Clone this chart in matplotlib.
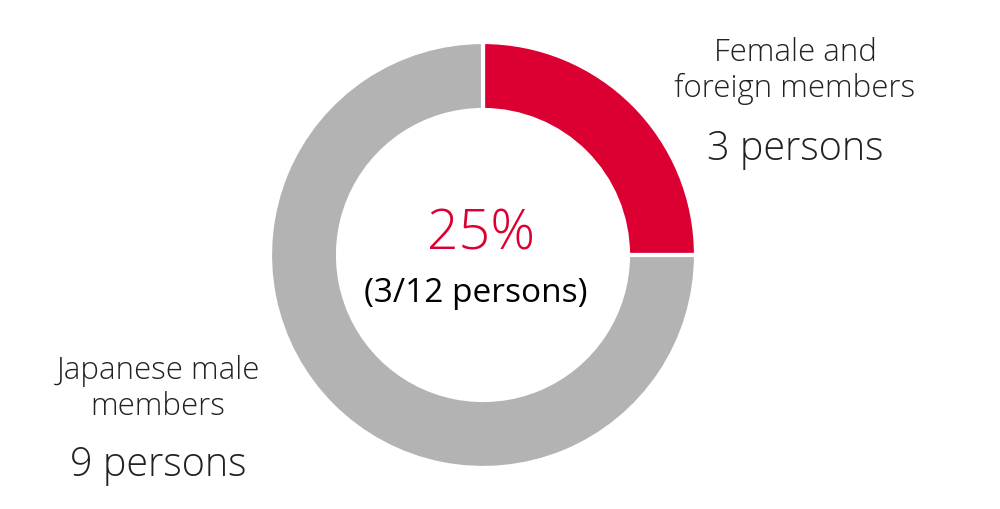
import matplotlib.pyplot as plt

# data
labels = ["Female and\nforeign members", "Japanese male\nmembers"]
counts = [3, 9]
colors = ["#DC0032", "#B3B3B3"]

total = sum(counts)
share = counts[0] / total * 100

plt.rcParams["font.family"] = ["Open Sans", "DejaVu Sans"]

fig = plt.figure(figsize=(10, 5.1), dpi=100)
ax = fig.add_axes([0, 0, 1, 1])

# donut
ax.pie(counts, colors=colors, startangle=90, counterclock=False,
       center=(483, 254), radius=213, frame=True,
       wedgeprops=dict(width=68, edgecolor="white", linewidth=3))
ax.set_xlim(0, 1000)
ax.set_ylim(0, 510)
ax.set_aspect("equal")
ax.axis("off")

# centre text
ax.text(481, 275, f"{share:.0f}%", color="#DC0032", fontsize=40,
        ha="center", va="center", fontweight="light")
ax.text(476, 217, f"({counts[0]}/{total} persons)", color="black", fontsize=24,
        ha="center", va="center")

# side labels
ax.text(795, 439, labels[0], fontsize=22.5, ha="center", va="center",
        linespacing=1.2, color="#222222", fontweight="light")
ax.text(795, 361, f"{counts[0]} persons", fontsize=28.5, ha="center", va="center",
        color="#222222", fontweight="light")

ax.text(158, 121, labels[1], fontsize=22.5, ha="center", va="center",
        linespacing=1.2, color="#222222", fontweight="light")
ax.text(158, 44, f"{counts[1]} persons", fontsize=28.5, ha="center", va="center",
        color="#222222", fontweight="light")

fig.savefig("out.png", dpi=100)
